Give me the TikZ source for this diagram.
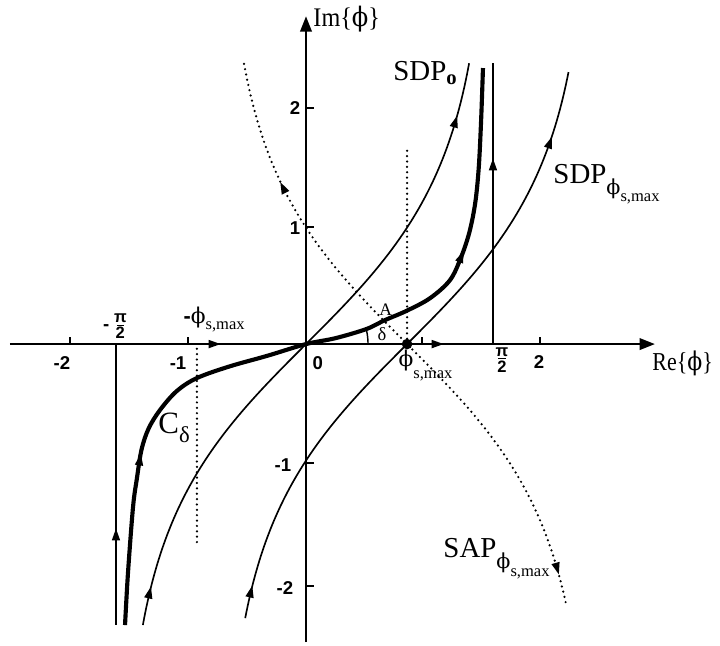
\documentclass[tikz,border=0pt]{standalone}
\usepackage{fontspec}
\usepackage{graphicx}
\setmainfont{Liberation Serif}
\newfontfamily\grk{DejaVu Serif}
\newfontfamily\tckf{Liberation Sans}
\usetikzlibrary{arrows.meta}
\newcommand{\ph}{{\grk ϕ}}
\newcommand{\fs}[1]{\fontsize{#1}{#1}\selectfont}
\newcommand{\arh}[3]{\fill[shift={(#1,#2)},rotate=#3] (0.055,0) -- (-0.045,0.036) -- (-0.045,-0.036) -- cycle;}
\begin{document}
\begin{tikzpicture}[x=2cm,y=2cm,
  crv/.style={line width=0.8pt},
  axl/.style={line width=1.3pt},
  cdl/.style={line width=2pt,line join=round},
  dotl/.style={line width=1.2pt,line cap=round,dash pattern=on 0pt off 2.6pt},
  lab/.style={inner sep=0pt,font=\fs{14}},
  tck/.style={inner sep=0pt,font=\tckf\bfseries\fs{9}},
  frc/.style={inner sep=0pt,font=\tckf\bfseries\fs{8}}]
\useasboundingbox (-2.604,-2.562) rectangle (3.523,2.928);
% axes
\coordinate (xs) at (-2.519,0); \coordinate (xe) at (2.970,0);
\coordinate (ys) at (0,-2.536); \coordinate (ye) at (0,2.79);
\draw[axl,-{Triangle[length=7.5pt,width=5.5pt]}] (xs) -- (xe);
\draw[axl,-{Triangle[length=7.5pt,width=5.5pt]}] (ys) -- (ye);
\foreach \xx in {-2.009,-1.004,0.987,1.991} \draw[line width=0.6pt] (\xx,0) -- (\xx,0.06);
\foreach \yy in {2.009,0.996,-1.013,-2.06} \draw[line width=0.8pt] (0,\yy) -- (0.07,\yy);
% contour legs at +-pi/2
\coordinate (pr0) at (1.591,0); \coordinate (pr1) at (1.591,2.391);
\coordinate (pl0) at (-1.617,0); \coordinate (pl1) at (-1.617,-2.391);
\draw[crv] (pr0) -- (pr1);
\draw[crv] (pl0) -- (pl1);
% SDP_0
\draw[crv] plot[domain=-2.391:2.391,samples=101,variable=\t] ({rad(atan(sinh(\t)))},{\t});
% SDP_phis
\draw[crv] plot[domain=-2.332:2.315,samples=101,variable=\t] ({0.86+rad(atan(sinh(\t)))},{\t});
% SAP_phis
\draw[dotl] plot[domain=-2.196:2.417,samples=121,variable=\t] ({0.86-rad(atan(sinh(\t)))},{\t});
% C_delta
\draw[cdl] plot[smooth,tension=0.55] coordinates {(-1.540,-2.391) (-1.515,-1.949) (-1.472,-1.387) (-1.44,-1.15) (-1.40,-0.90) (-1.34,-0.72) (-1.243,-0.562) (-1.1,-0.40) (-0.928,-0.289) (-0.65,-0.19) (-0.33,-0.10) (0,0) (0.25,0.05) (0.514,0.128) (0.672,0.204) (0.85,0.28) (1.055,0.39) (1.226,0.545) (1.32,0.74) (1.39,0.95) (1.44,1.2) (1.47,1.5) (1.49,1.9) (1.506,2.349)};
% dotted verticals
\coordinate (ps0) at (0.86,0); \coordinate (ps1) at (0.86,1.668);
\coordinate (ms0) at (-0.928,-0.04); \coordinate (ms1) at (-0.928,-1.711);
\draw[dotl] (ps0) -- (ps1);
\draw[dotl] (ms0) -- (ms1);
\fill (ps0) circle (0.045);
% delta arc
\draw[line width=0.7pt] (0.528,0) arc[start angle=0,end angle=14,radius=0.528];
% arrowheads
\arh{1.270}{1.889}{73.5}
\arh{-1.332}{-2.119}{76.7}
\arh{2.074}{1.711}{70.7}
\arh{-0.470}{-2.111}{76.6}
\arh{-0.194}{1.328}{116.3}
\arh{2.136}{-1.906}{-73.8}
\arh{1.32}{0.74}{68}
\arh{-1.414}{-0.987}{81}
\arh{1.591}{1.523}{90}
\arh{-1.617}{-1.626}{90}
\arh{-0.783}{0}{0}
\arh{1.115}{0}{0}
% labels
\node[lab,anchor=base west,font=\fs{13}] (lim) at (0.06,2.70) {\scalebox{0.9}[1]{Im\{\ph\}}};
\node[lab,anchor=base west,font=\fs{12.5}] (lre) at (2.945,-0.225) {\scalebox{0.85}[1]{Re\{\ph\}}};
\node[lab,anchor=base west] (lsdpo) at (0.740,2.247) {SDP\raisebox{-2.4pt}{\fs{10}\bfseries o}};
\node[lab,anchor=base west] (lsdps) at (2.102,1.370) {SDP\raisebox{-5.5pt}{\fs{10}\ph\raisebox{-3.5pt}{\fs{8}s,max}}};
\node[lab,anchor=base west] (lsap) at (1.166,-1.817) {SAP\raisebox{-5.5pt}{\fs{10}\ph\raisebox{-3.5pt}{\fs{8}s,max}}};
\node[lab,anchor=base west,font=\fs{15}] (lcd) at (-1.26,-0.757) {C\raisebox{-4.8pt}{\fs{11}δ}};
\node[anchor=base west,inner sep=0pt,font=\fs{8.5}] (la) at (0.621,0.247) {A};
\node[inner sep=0pt,font=\fs{9}] (ld) at (0.647,0.085) {δ};
\node[anchor=base west,inner sep=0pt,font=\fs{10.5}] (lphis) at (0.785,-0.19) {\ph\raisebox{-6pt}{\fs{8}s,max}};
\node[anchor=base west,inner sep=0pt,font=\fs{10.5}] (lmphis) at (-1.045,0.174) {{\tckf\bfseries -}\ph\raisebox{-3pt}{\fs{8}s,max}};
\node[tck] (t0) at (0.10,-0.16) {0};
\node[tck] (tm2) at (-2.077,-0.162) {-2};
\node[tck] (tm1) at (-1.089,-0.162) {-1};
\node[tck] (tp2) at (1.983,-0.155) {2};
\node[tck] (ty2) at (-0.094,2.01) {2};
\node[tck] (ty1) at (-0.094,0.987) {1};
\node[tck] (tym1) at (-0.196,-1.03) {-1};
\node[tck] (tym2) at (-0.18,-2.077) {-2};
% pi/2 fractions
\node[frc] (rpi) at (1.668,-0.068) {π};
\node[frc] (r2) at (1.668,-0.19) {2};
\draw[line width=0.5pt] (1.638,-0.122) -- (1.698,-0.122);
\node[frc] (lpi) at (-1.58,0.221) {π};
\node[frc] (l2) at (-1.58,0.094) {2};
\draw[line width=0.5pt] (-1.61,0.155) -- (-1.55,0.155);
\node[tck] (tmin) at (-1.70,0.14) {-};
\end{tikzpicture}
\end{document}
